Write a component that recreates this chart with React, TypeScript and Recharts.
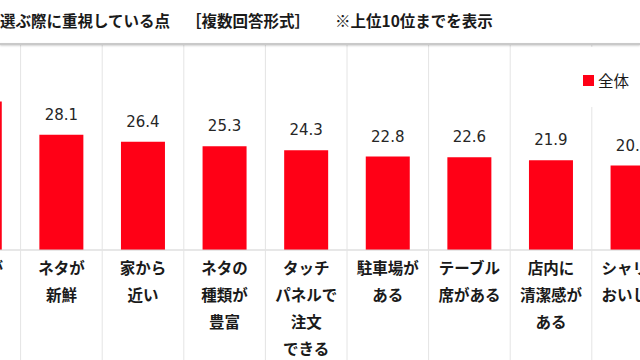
import React from 'react';
import { BarChart, Bar, XAxis, YAxis, LabelList, Legend } from 'recharts';

// 上位10位（左右が切れている元図を再現）
const categories = [
  ['価格が', '安い'],
  ['ネタが', '新鮮'],
  ['家から', '近い'],
  ['ネタの', '種類が', '豊富'],
  ['タッチ', 'パネルで', '注文', 'できる'],
  ['駐車場が', 'ある'],
  ['テーブル', '席がある'],
  ['店内に', '清潔感が', 'ある'],
  ['シャリが', 'おいしい'],
  ['サイド', 'メニューが', '充実'],
];
const values = [36.2, 28.1, 26.4, 25.3, 24.3, 22.8, 22.6, 21.9, 20.6, 19.8];
const seriesName = '全体';

const data = categories.map((lines, i) => ({ name: lines.join(''), lines, value: values[i] }));

const RED = '#ff0016';
const CHART_W = 816;
const CHART_H = 360;
const PLOT_TOP = 45;
const AXIS_H = 110;
const BAND = CHART_W / categories.length;
const JP = '"Noto Sans CJK JP", "Noto Sans", sans-serif';

const CategoryTick = (props: any) => {
  const { x, y, index } = props;
  const lines = categories[index] || [];
  const gx = x - BAND / 2;
  return (
    <g>
      <line x1={gx} y1={PLOT_TOP} x2={gx} y2={CHART_H} stroke="#e4e4e4" strokeWidth={1} />
      {lines.map((t, i) => (
        <text
          key={i}
          x={x}
          y={y + 9 + i * 27}
          textAnchor="middle"
          dominantBaseline="central"
          fontFamily={JP}
          fontWeight={700}
          fontSize={15.5}
          fill="#1a1a1a"
        >
          {t}
        </text>
      ))}
    </g>
  );
};

const LegendBox = () => (
  <div
    style={{
      display: 'flex',
      alignItems: 'center',
      gap: 4,
      background: '#fff',
      width: 70,
      height: 60,
      paddingLeft: 8,
      paddingTop: 6,
      boxSizing: 'border-box',
      fontFamily: JP,
      fontSize: 15.5,
      color: '#1a1a1a',
    }}
  >
    <span style={{ display: 'inline-block', width: 11, height: 11, background: RED }} />
    <span>{seriesName}</span>
  </div>
);

export default function App() {
  return (
    <div
      style={{
        position: 'absolute',
        left: 0,
        top: 0,
        width: 640,
        height: 360,
        overflow: 'hidden',
        background: '#fff',
      }}
    >
      <div
        style={{
          position: 'absolute',
          top: 9,
          left: 0,
          height: 22,
          lineHeight: '22px',
          fontFamily: JP,
          fontWeight: 700,
          fontSize: 15.5,
          color: '#1a1a1a',
          whiteSpace: 'nowrap',
        }}
      >
        <span style={{ position: 'absolute', left: 0 }}>選ぶ際に重視している点</span>
        <span style={{ position: 'absolute', left: 186 }}>［複数回答形式］</span>
        <span style={{ position: 'absolute', left: 335 }}>※上位10位までを表示</span>
      </div>
      <div
        style={{
          position: 'absolute',
          top: 43,
          left: 0,
          width: 640,
          height: 2,
          background: '#c9c9c9',
          boxShadow: '0 1px 2px rgba(0,0,0,0.18)',
          zIndex: 2,
        }}
      />
      <div style={{ position: 'absolute', left: -BAND + 20.4, top: 0 }}>
        <BarChart
          width={CHART_W}
          height={CHART_H}
          data={data}
          margin={{ top: PLOT_TOP, right: 0, bottom: 0, left: 0 }}
          barCategoryGap="23%"
        >
          <XAxis
            dataKey="name"
            height={AXIS_H}
            interval={0}
            tickLine={false}
            axisLine={{ stroke: '#cfcfcf', strokeWidth: 1 }}
            tick={<CategoryTick />}
          />
          <YAxis hide domain={[0, 50]} />
          <Legend
            layout="vertical"
            align="center"
            verticalAlign="middle"
            wrapperStyle={{ left: BAND - 20.4 + 575, top: 47, width: 70 }}
            content={<LegendBox />}
          />
          <Bar dataKey="value" name={seriesName} fill={RED} isAnimationActive={false}>
            <LabelList
              dataKey="value"
              position="top"
              offset={15}
              fontFamily='"DejaVu Sans", Verdana, sans-serif'
              fontSize={15}
              fill="#262626"
              formatter={(v: any) => Number(v).toFixed(1)}
            />
          </Bar>
        </BarChart>
      </div>
    </div>
  );
}
